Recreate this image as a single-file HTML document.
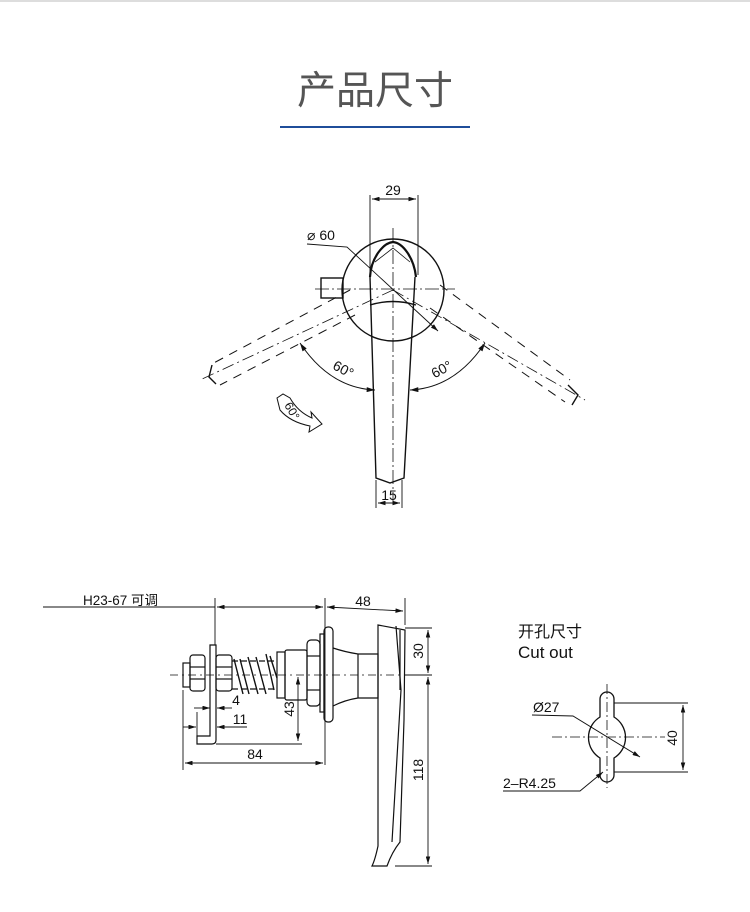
<!DOCTYPE html>
<html><head><meta charset="utf-8"><style>
html,body{margin:0;padding:0;background:#fff;}
svg{display:block;}
text{font-family:"Liberation Sans","Noto Sans CJK SC",sans-serif;fill:#111;}
</style></head><body>
<svg width="750" height="912" viewBox="0 0 750 912" xmlns="http://www.w3.org/2000/svg">
<defs>
<marker id="a" viewBox="0 0 10 6" refX="10" refY="3" markerWidth="9" markerHeight="5" orient="auto-start-reverse"><path d="M0,0 L10,3 L0,6 z" fill="#111"/></marker>
</defs>
<line x1="0" y1="1" x2="750" y2="1" stroke="#ddd" stroke-width="2"/>
<text x="375" y="104" font-size="39" text-anchor="middle" style="fill:#555">产品尺寸</text>
<line x1="280" y1="127" x2="470" y2="127" stroke="#1f4e9a" stroke-width="2"/>

<g stroke="#111" fill="none" stroke-width="1.4">
<!-- TOP VIEW -->
<circle cx="393" cy="290" r="51"/>
<rect x="321" y="278" width="22" height="20"/>
<path d="M370 277 C371 258 383 243 393 242 C403 243 414 258 416 277" stroke-width="2.2"/>
<path d="M370 277 L376 478 L390 483 L404 478 L415 277"/>
<path d="M370 305 Q393 298 416 305"/>
<path d="M375 262 L393 248 L410 262" stroke-width="0.8"/>
<line x1="393" y1="228" x2="393" y2="505" stroke-dasharray="14 3 2 3" stroke-width="0.8"/>
<line x1="315" y1="289" x2="455" y2="289" stroke-dasharray="14 3 2 3" stroke-width="0.8"/>
<g stroke-dasharray="9 7" stroke-width="1">
<line x1="350" y1="290" x2="210" y2="365"/>
<line x1="355" y1="315" x2="220" y2="385"/>
<line x1="440" y1="285" x2="570" y2="380"/>
<line x1="430" y1="308" x2="565" y2="402"/>
</g>
<line x1="393" y1="290" x2="200" y2="380" stroke-dasharray="12 4 2 4" stroke-width="0.8"/>
<line x1="393" y1="290" x2="585" y2="400" stroke-dasharray="12 4 2 4" stroke-width="0.8"/>
<path d="M212 365 L209 377 L216 384"/>
<path d="M568 385 L578 395 L572 405"/>
<line x1="370" y1="195" x2="370" y2="275" stroke-width="0.9"/>
<line x1="418" y1="195" x2="418" y2="275" stroke-width="0.9"/>
<line x1="372" y1="199" x2="416" y2="199" stroke-width="0.9" marker-start="url(#a)" marker-end="url(#a)"/>
<line x1="376" y1="480" x2="376" y2="508" stroke-width="0.9"/>
<line x1="402" y1="480" x2="402" y2="508" stroke-width="0.9"/>
<line x1="378" y1="503" x2="400" y2="503" stroke-width="0.9" marker-start="url(#a)" marker-end="url(#a)"/>
<path d="M307 244 L347 247 L438 331" stroke-width="0.9" marker-end="url(#a)"/>
<path d="M300 343 Q330 388 375 390" stroke-width="1" marker-start="url(#a)" marker-end="url(#a)"/>
<path d="M485 343 Q455 388 410 390" stroke-width="1" marker-start="url(#a)" marker-end="url(#a)"/>
<path d="M277 398 L283 394 L290 398 Q298 412 312 418 L311 412 L322 424 L309 432 L310 426 Q290 422 280 410 Z" stroke-width="1"/>
</g>
<text x="393" y="195" font-size="14" text-anchor="middle">29</text>
<text x="389" y="500" font-size="14" text-anchor="middle">15</text>
<text x="307" y="240" font-size="14">⌀ 60</text>
<text x="343" y="374" font-size="14" text-anchor="middle" transform="rotate(28 343 370)">60°</text>
<text x="442" y="374" font-size="14" text-anchor="middle" transform="rotate(-28 442 370)">60°</text>
<text x="292" y="415" font-size="12" text-anchor="middle" transform="rotate(60 292 411)">60°</text>

<!-- SIDE VIEW -->
<text x="83" y="605" font-size="13.5">H23-67 可调</text>
<text x="363" y="606" font-size="14" text-anchor="middle">48</text>
<g stroke="#111" fill="none" stroke-width="1.2">
<line x1="43" y1="607" x2="215" y2="607" stroke-width="0.9"/>
<line x1="217" y1="607" x2="323" y2="607" stroke-width="0.9" marker-start="url(#a)" marker-end="url(#a)"/>
<line x1="327" y1="607" x2="403" y2="611" stroke-width="0.9" marker-start="url(#a)" marker-end="url(#a)"/>
<line x1="215" y1="598" x2="215" y2="645" stroke-width="0.9"/>
<line x1="325" y1="598" x2="325" y2="765" stroke-width="0.9"/>
<line x1="405" y1="598" x2="405" y2="625" stroke-width="0.9"/>
<!-- bracket -->
<path d="M210 645 L216 645 L216 740 Q216 744 212 744 L197 744 L197 736 L210 736 Z"/>
<!-- threaded end -->
<rect x="183" y="663" width="7" height="24"/>
<!-- nuts -->
<rect x="190" y="655" width="15" height="36" rx="3"/>
<line x1="190" y1="667" x2="205" y2="667"/><line x1="190" y1="679" x2="205" y2="679"/>
<rect x="216" y="655" width="16" height="36" rx="3"/>
<line x1="216" y1="667" x2="232" y2="667"/><line x1="216" y1="679" x2="232" y2="679"/>
<!-- screw & spring -->
<line x1="232" y1="661" x2="277" y2="661" stroke-dasharray="6 3"/>
<line x1="232" y1="689" x2="277" y2="689" stroke-dasharray="6 3"/>
<path d="M234 659 L243 694 M240 659 L249 694 M248 657 L258 694 M256 657 L266 694 M266 654 L274 690 M270 656 L277 678" stroke-width="1.4"/>
<!-- big nuts -->
<rect x="277" y="652" width="8" height="46"/>
<rect x="285" y="650" width="22" height="50" rx="2"/>
<rect x="307" y="640" width="13" height="66" rx="4"/>
<line x1="307" y1="656" x2="320" y2="656"/><line x1="307" y1="690" x2="320" y2="690"/>
<rect x="320" y="634" width="4" height="78"/>
<rect x="324" y="627" width="9" height="95" rx="4"/>
<!-- stem -->
<path d="M333 648 Q345 652 358 654 L378 654 L378 698 L358 698 Q345 700 333 706"/>
<line x1="358" y1="654" x2="358" y2="698"/>
<!-- handle -->
<path d="M378 625 L378 846 Q375 860 372 866 L387 866 Q392 852 400 842 L404 720 L405 630 Z"/>
<path d="M396 626 L401 690 L392 842"/>
<line x1="400" y1="630" x2="400" y2="690"/>
<line x1="170" y1="675" x2="420" y2="675" stroke-dasharray="8 4 2 4" stroke-width="0.8"/>
<!-- dims -->
<line x1="405" y1="628" x2="432" y2="628" stroke-width="0.9"/>
<line x1="405" y1="675" x2="432" y2="675" stroke-width="0.9"/>
<line x1="395" y1="866" x2="432" y2="866" stroke-width="0.9"/>
<line x1="428" y1="630" x2="428" y2="673" stroke-width="0.9" marker-start="url(#a)" marker-end="url(#a)"/>
<line x1="428" y1="677" x2="428" y2="864" stroke-width="0.9" marker-start="url(#a)" marker-end="url(#a)"/>
<line x1="298" y1="677" x2="298" y2="741" stroke-width="0.9" marker-start="url(#a)" marker-end="url(#a)"/>
<line x1="216" y1="744" x2="302" y2="744" stroke-width="0.9"/>
<line x1="183" y1="690" x2="183" y2="770" stroke-width="0.9"/>
<line x1="197" y1="712" x2="197" y2="736" stroke-width="0.9"/>
<line x1="194" y1="708" x2="210" y2="708" stroke-width="0.9" marker-end="url(#a)"/>
<line x1="232" y1="708" x2="217" y2="708" stroke-width="0.9" marker-end="url(#a)"/>
<line x1="183" y1="727" x2="196" y2="727" stroke-width="0.9" marker-end="url(#a)"/>
<line x1="247" y1="727" x2="217" y2="727" stroke-width="0.9" marker-end="url(#a)"/>
<line x1="185" y1="763" x2="323" y2="763" stroke-width="0.9" marker-start="url(#a)" marker-end="url(#a)"/>
</g>
<text x="236" y="705" font-size="14" text-anchor="middle">4</text>
<text x="240" y="724" font-size="14" text-anchor="middle">11</text>
<text x="255" y="759" font-size="14" text-anchor="middle">84</text>
<text x="294" y="709" font-size="14" text-anchor="middle" transform="rotate(-90 294 709)">43</text>
<text x="423" y="651" font-size="14" text-anchor="middle" transform="rotate(-90 423 651)">30</text>
<text x="423" y="770" font-size="14" text-anchor="middle" transform="rotate(-90 423 770)">118</text>

<!-- CUTOUT -->
<text x="518" y="637" font-size="16">开孔尺寸</text>
<text x="518" y="658" font-size="17">Cut out</text>
<g stroke="#111" fill="none" stroke-width="1.3">
<path d="M600 717 L600 699 A7 7 0 0 1 614 699 L614 717 A24 24 0 0 1 614 758 L614 775 A7 7 0 0 1 600 775 L600 758 A24 24 0 0 1 600 717 Z"/>
<line x1="607" y1="684" x2="607" y2="788" stroke-dasharray="10 3 2 3" stroke-width="0.8"/>
<line x1="552" y1="737" x2="665" y2="737" stroke-dasharray="10 3 2 3" stroke-width="0.8"/>
<line x1="614" y1="703" x2="688" y2="703" stroke-width="0.9"/>
<line x1="614" y1="772" x2="688" y2="772" stroke-width="0.9"/>
<line x1="683" y1="705" x2="683" y2="770" stroke-width="0.9" marker-start="url(#a)" marker-end="url(#a)"/>
<path d="M532 715 L573 716 L640 757" stroke-width="0.9" marker-end="url(#a)"/>
<path d="M503 791 L580 791 L603 772" stroke-width="0.9" marker-end="url(#a)"/>
</g>
<text x="533" y="712" font-size="14">Ø27</text>
<text x="503" y="788" font-size="14">2–R4.25</text>
<text x="677" y="738" font-size="14" text-anchor="middle" transform="rotate(-90 677 738)">40</text>
</svg>
</body></html>
